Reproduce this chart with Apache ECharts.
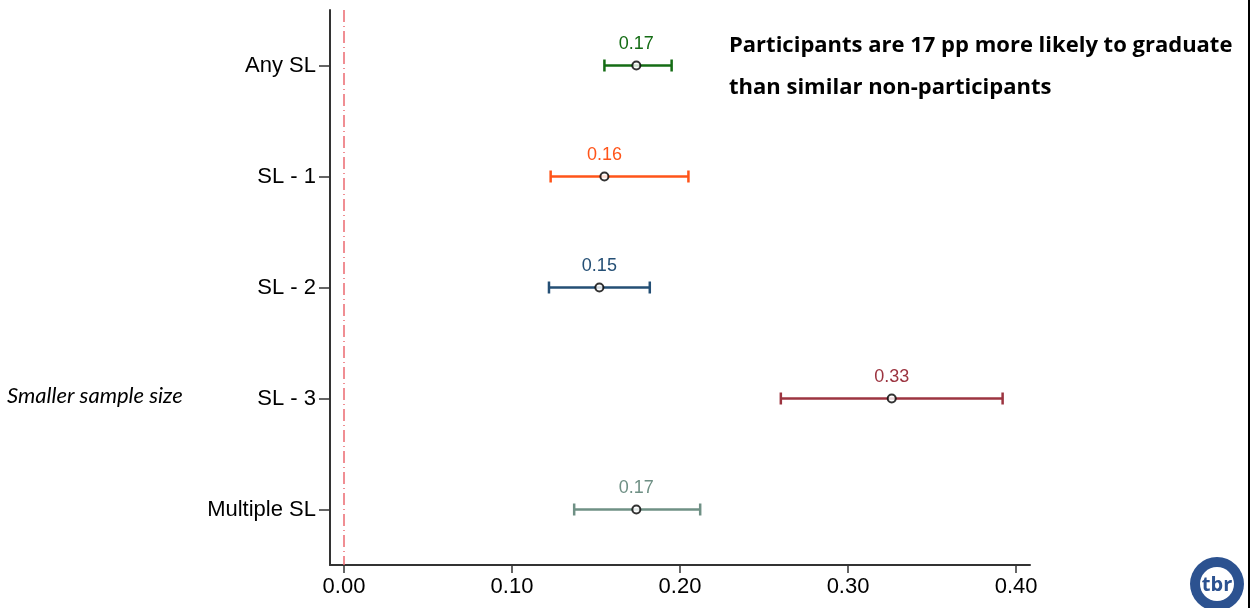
<!DOCTYPE html>
<html>
<head>
<meta charset="utf-8">
<script src="https://cdn.jsdelivr.net/npm/echarts@6/dist/echarts.min.js"></script>
<style>
  html, body { margin: 0; padding: 0; background: #fff; }
  #main { width: 1255px; height: 608px; }
</style>
</head>
<body>
<div id="main"></div>
<script>
// categories, top to bottom
var categories = ['Any SL', 'SL - 1', 'SL - 2', 'SL - 3', 'Multiple SL'];
// point estimates and confidence bounds
var estimates = [0.174, 0.155, 0.152, 0.326, 0.174];
var lower = [0.155, 0.123, 0.122, 0.260, 0.137];
var upper = [0.195, 0.205, 0.182, 0.392, 0.212];
var valueLabels = ['0.17', '0.16', '0.15', '0.33', '0.17'];
var colors = ['#146c14', '#ff5419', '#244f75', '#9c3440', '#6f9085'];
var xTicks = [0, 0.1, 0.2, 0.3, 0.4];

var myChart = echarts.init(document.getElementById('main'));

var ciData = categories.map(function (c, i) {
  return [lower[i], upper[i], i, estimates[i]];
});

var option = {
  animation: false,
  grid: { left: 330, right: 225, top: 10, bottom: 43 },
  xAxis: {
    type: 'value',
    min: -0.00833,
    max: 0.4083,
    splitLine: { show: false },
    axisLine: { show: true, onZero: false, lineStyle: { color: '#333', width: 2 } },
    axisTick: { show: true, length: 8, customValues: xTicks, lineStyle: { color: '#333', width: 1.5 } },
    axisLabel: {
      customValues: xTicks,
      formatter: function (v) { return v.toFixed(2); },
      color: '#000',
      fontFamily: 'Liberation Sans, Arial',
      fontSize: 22,
      margin: 11
    }
  },
  yAxis: {
    type: 'category',
    data: categories,
    inverse: true,
    axisLine: { show: true, onZero: false, lineStyle: { color: '#333', width: 2 } },
    axisTick: { show: true, alignWithLabel: true, length: 11, lineStyle: { color: '#333', width: 1.5 } },
    axisLabel: {
      color: '#000',
      fontFamily: 'Liberation Sans, Arial',
      fontSize: 22,
      margin: 14
    },
    splitLine: { show: false }
  },
  series: [
    {
      type: 'custom',
      data: ciData,
      renderItem: function (params, api) {
        var i = api.value(2);
        var p1 = api.coord([api.value(0), i]);
        var p2 = api.coord([api.value(1), i]);
        var pm = api.coord([api.value(3), i]);
        var col = colors[i];
        var cap = 6;
        var ls = { stroke: col, lineWidth: 2.5 };
        return {
          type: 'group',
          children: [
            { type: 'line', shape: { x1: p1[0], y1: p1[1], x2: p2[0], y2: p2[1] }, style: ls },
            { type: 'line', shape: { x1: p1[0], y1: p1[1] - cap, x2: p1[0], y2: p1[1] + cap }, style: ls },
            { type: 'line', shape: { x1: p2[0], y1: p2[1] - cap, x2: p2[0], y2: p2[1] + cap }, style: ls },
            {
              type: 'text',
              x: pm[0],
              y: pm[1] - 21,
              style: {
                text: valueLabels[i],
                fill: col,
                font: '18px "Liberation Sans", Arial',
                align: 'center',
                verticalAlign: 'middle'
              }
            }
          ]
        };
      },
      markLine: {
        silent: true,
        symbol: 'none',
        label: { show: false },
        lineStyle: { color: '#ec6a70', width: 1.5, type: [12, 4, 1, 4] },
        data: [{ xAxis: 0 }]
      },
      z: 2
    },
    {
      type: 'scatter',
      data: categories.map(function (c, i) { return [estimates[i], i]; }),
      symbol: 'circle',
      symbolSize: 8,
      itemStyle: { color: '#fff', borderColor: '#000', borderWidth: 2 },
      z: 3
    }
  ],
  graphic: [
    {
      type: 'text',
      left: 729,
      top: 35,
      style: {
        text: 'Participants are 17 pp more likely to graduate',
        font: 'bold 22px "Open Sans", Lato, sans-serif',
        fill: '#000'
      }
    },
    {
      type: 'text',
      left: 729,
      top: 77,
      style: {
        text: 'than similar non-participants',
        font: 'bold 22px "Open Sans", Lato, sans-serif',
        fill: '#000'
      }
    },
    {
      type: 'text',
      left: 7,
      top: 385,
      style: {
        text: 'Smaller sample size',
        font: 'italic 22px Lato, "Open Sans", sans-serif',
        fill: '#000'
      }
    },
    {
      type: 'line',
      shape: { x1: 1249, y1: 0, x2: 1249, y2: 608 },
      style: { stroke: '#000', lineWidth: 2 }
    },
    // logo
    {
      type: 'circle',
      shape: { cx: 1217, cy: 584, r: 27 },
      style: { fill: '#2c5290' }
    },
    {
      type: 'circle',
      shape: { cx: 1217, cy: 584, r: 17 },
      style: { fill: '#fff' }
    },
    {
      type: 'text',
      x: 1217,
      y: 585,
      style: {
        text: 'tbr',
        font: 'bold 20px "Open Sans", sans-serif',
        fill: '#2c5290',
        align: 'center',
        verticalAlign: 'middle'
      }
    }
  ]
};

myChart.setOption(option);
</script>
</body>
</html>
